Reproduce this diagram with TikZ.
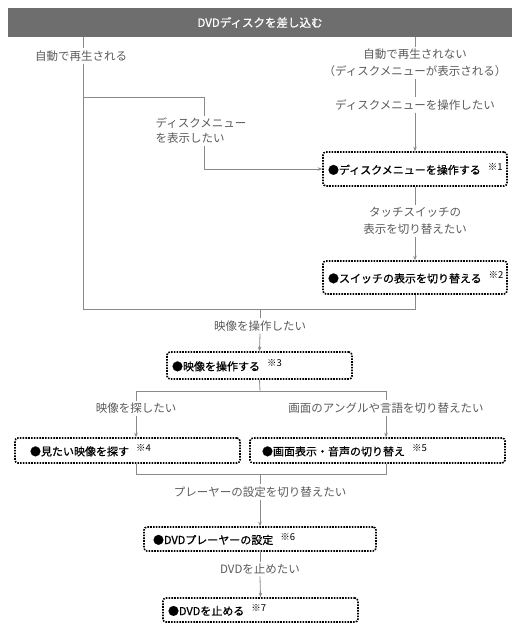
\documentclass[tikz,border=0pt]{standalone}
\usepackage{fontspec}
\setmainfont{Noto Sans CJK JP}
\newfontfamily\boxfont{Noto Sans CJK JP}[FakeBold=0.8]
\usetikzlibrary{arrows.meta}
\definecolor{bargray}{HTML}{6E6E6E}
\definecolor{linegray}{HTML}{8A8A8A}
\definecolor{labelgray}{HTML}{5A5A5A}
\tikzset{
  bar/.style={fill=bargray, text=white, minimum width=504pt, minimum height=29pt, inner sep=0pt, font={\boxfont\fontsize{11.5}{14}\selectfont}},
  lbl/.style={text=labelgray, inner sep=2pt, font={\fontsize{11.5}{17}\selectfont}},
  stepbox/.style={draw=black, rounded corners=3pt, line width=1.6pt, dash pattern=on 1.6pt off 1.2pt, align=left, inner ysep=0pt, font={\boxfont\fontsize{11}{14}\selectfont}},
  wire/.style={draw=linegray, line width=0.8pt},
}
\newcommand{\note}[1]{\hspace{7pt}\rlap{\raisebox{4pt}{\normalfont\fontsize{9.5}{10}\selectfont #1}}}
\begin{document}
\begin{tikzpicture}[x=1pt, y=-1pt, >={Stealth[length=4.5pt, width=3.5pt]}]
    \useasboundingbox (0, 0) rectangle (520, 631);
    \coordinate (colL) at (83, 0);
    \coordinate (colM) at (204, 0);
    \coordinate (colR) at (415, 0);
    \coordinate (colS) at (136, 0);
    \coordinate (colA) at (386, 0);
    \node [bar] (insert) at (260, 22.5) {DVDディスクを差し込む};
    \node [lbl] (auto) at (81, 56) {自動で再生される};
    \node [lbl, align=center] (noauto) at (415, 63) {自動で再生されない\\（ディスクメニューが表示される）};
    \node [lbl] (wantmenu) at (415, 105) {ディスクメニューを操作したい};
    \node [lbl, align=left, font={\fontsize{11.5}{15}\selectfont}] (showmenu) at (201, 131) {ディスクメニュー\\を表示したい};
    \node [stepbox, text width=174pt, inner xsep=5pt, minimum height=34pt] (menu) at (415, 169) {●ディスクメニューを操作する\note{※1}};
    \node [lbl, align=center] (touch) at (415, 221) {タッチスイッチの\\表示を切り替えたい};
    \node [stepbox, text width=174pt, inner xsep=5pt, minimum height=33pt] (switch) at (415, 277.5) {●スイッチの表示を切り替える\note{※2}};
    \coordinate (jBot) at (83, 309);
    \coordinate (jMid) at (260, 309);
    \node [lbl] (opvid) at (260, 326) {映像を操作したい};
    \node [stepbox, text width=175pt, inner xsep=5pt, minimum height=27pt] (vid) at (259.5, 365.5) {●映像を操作する\note{※3}};
    \coordinate (jVid) at (260, 391);
    \node [lbl] (search) at (136, 408) {映像を探したい};
    \node [lbl] (angle) at (386, 408) {画面のアングルや言語を切り替えたい};
    \node [stepbox, text width=195pt, inner xsep=15pt, minimum height=25pt] (find) at (127.5, 450.5) {●見たい映像を探す\note{※4}};
    \node [stepbox, text width=231pt, inner xsep=12pt, minimum height=25pt] (screen) at (377.5, 450.5) {●画面表示・音声の切り替え\note{※5}};
    \coordinate (jSet) at (260, 474);
    \node [lbl] (player) at (260, 492) {プレーヤーの設定を切り替えたい};
    \node [stepbox, text width=214pt, inner xsep=9pt, minimum height=24pt] (setting) at (260, 539) {●DVDプレーヤーの設定\note{※6}};
    \node [lbl] (stop) at (260, 569) {DVDを止めたい};
    \node [stepbox, text width=185pt, inner xsep=5pt, minimum height=24pt] (halt) at (260.5, 610) {●DVDを止める\note{※7}};
    % left branch (played automatically)
    \draw [wire] (insert.south -| colL) -- (auto.north -| colL);
    \draw [wire] (auto.south -| colL) -- (jBot) -- (jBot -| switch.south) -- (switch.south);
    \draw [wire] (83, 97) -- (204, 97) -- (showmenu.north -| colM);
    \draw [wire, ->] (showmenu.south -| colM) |- (menu.west);
    % right branch (disc menu)
    \draw [wire] (insert.south -| colR) -- (noauto.north);
    \draw [wire] (noauto.south) -- (wantmenu.north);
    \draw [wire, ->] (wantmenu.south) -- (menu.north);
    \draw [wire] (menu.south) -- (touch.north);
    \draw [wire, ->] (touch.south) -- (switch.north);
    % video
    \draw [wire] (jMid) -- (opvid.north);
    \draw [wire, ->] (opvid.south) -- (vid.north);
    \draw [wire] (vid.south) -- (jVid);
    \draw [wire] (jVid -| colS) -- (jVid -| colA);
    \draw [wire] (jVid -| colS) -- (search.north -| colS);
    \draw [wire, ->] (search.south -| colS) -- (find.north -| colS);
    \draw [wire] (jVid -| colA) -- (angle.north -| colA);
    \draw [wire, ->] (angle.south -| colA) -- (screen.north -| colA);
    \draw [wire] (find.south -| colS) -- (jSet -| colS) -- (jSet -| colA) -- (screen.south -| colA);
    \draw [wire] (jSet) -- (player.north);
    \draw [wire, ->] (player.south) -- (setting.north);
    \draw [wire] (setting.south) -- (stop.north);
    \draw [wire, ->] (stop.south) -- (halt.north);
\end{tikzpicture}
\end{document}
